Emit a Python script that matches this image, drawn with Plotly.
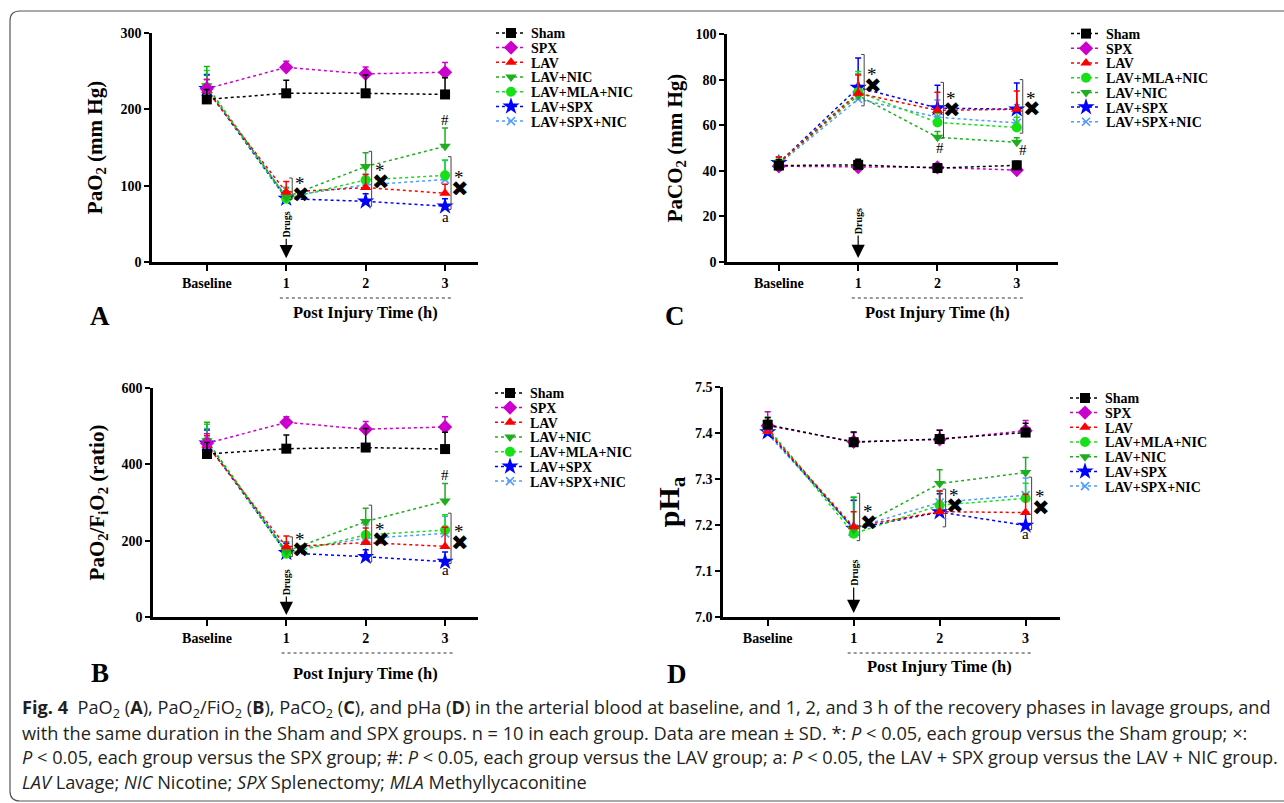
import plotly.graph_objects as go

W, H = 1284, 803


def px(x):
    return x / W


def py(y):
    return 1 - y / H


# ---------------- data ----------------
TIME_VALS = [0, 1, 2, 3]
TIME_LABELS = ["Baseline", "1", "2", "3"]
GROUPS = ["Sham", "SPX", "LAV", "LAV+NIC", "LAV+MLA+NIC", "LAV+SPX", "LAV+SPX+NIC"]

# PaO2 (mm Hg)
PAO2_MEAN = [
    [213, 221, 221, 219.5],
    [227, 255, 246.5, 248.5],
    [225, 91.5, 97.5, 90],
    [231, 85, 125, 151.5],
    [229, 83, 107.5, 113.5],
    [227, 83, 79.5, 73],
    [226, 86, 101, 108],
]
PAO2_SD = [
    [13, 17, 24, 22],
    [12, 8, 9, 13],
    [14, 14, 17, 12],
    [25, 12, 18, 24],
    [22, 10, 16, 20],
    [18, 10, 10, 10],
    [20, 12, 14, 25],
]

# PaO2/FiO2 (ratio)
RATIO_MEAN = [
    [427, 441, 444, 440],
    [455, 510, 492, 498],
    [450, 184, 195, 185],
    [462, 172, 250, 304],
    [460, 166, 215, 228],
    [455, 168, 158, 145],
    [454, 174, 206, 219],
]
RATIO_SD = [
    [30, 36, 50, 44],
    [25, 15, 20, 27],
    [25, 28, 38, 50],
    [48, 25, 35, 46],
    [45, 20, 30, 40],
    [35, 25, 18, 25],
    [40, 20, 35, 45],
]

# PaCO2 (mm Hg)
PACO2_MEAN = [
    [42.3, 42.6, 41.2, 42.4],
    [42.0, 41.6, 41.5, 40.3],
    [43.5, 74.0, 66.5, 67.0],
    [43.5, 73.0, 54.7, 52.5],
    [43.5, 74.5, 61.2, 59.0],
    [43.5, 76.5, 67.5, 67.0],
    [43.0, 71.5, 63.5, 61.0],
]
PACO2_SD = [
    [2.5, 2.5, 1.5, 1.8],
    [2.0, 1.5, 1.5, 1.5],
    [2.5, 8.0, 8.0, 8.0],
    [2.5, 9.5, 2.5, 2.0],
    [2.5, 9.0, 4.0, 4.5],
    [2.5, 13.0, 10.0, 11.5],
    [2.0, 6.0, 7.5, 8.0],
]

# pHa
PH_MEAN = [
    [7.418, 7.380, 7.387, 7.401],
    [7.416, 7.381, 7.386, 7.405],
    [7.404, 7.196, 7.229, 7.227],
    [7.410, 7.190, 7.290, 7.314],
    [7.408, 7.181, 7.243, 7.258],
    [7.402, 7.192, 7.228, 7.199],
    [7.398, 7.193, 7.249, 7.265],
]
PH_SD = [
    [0.015, 0.022, 0.019, 0.020],
    [0.030, 0.020, 0.020, 0.022],
    [0.020, 0.033, 0.045, 0.040],
    [0.025, 0.070, 0.030, 0.033],
    [0.020, 0.080, 0.030, 0.033],
    [0.020, 0.062, 0.040, 0.030],
    [0.020, 0.060, 0.026, 0.037],
]

# significance marks: (time, bracket low, bracket high, level of the x / * mark)
PAO2_SIG = [(1, 82, 110, 88), (2, 73, 145, 105), (3, 69, 138, 96)]
RATIO_SIG = [(1, 158, 210, 175), (2, 144, 293, 201), (3, 140, 272, 195)]
PACO2_SIG = [(1, 68.5, 91, 77.4), (2, 54.3, 78.8, 66.7), (3, 56.5, 80, 67)]
PH_SIG = [(1, 7.166, 7.269, 7.205), (2, 7.196, 7.278, 7.241), (3, 7.19, 7.304, 7.238)]
PAO2_HASH = [(3, 186)]
RATIO_HASH = [(3, 372)]
PACO2_HASH = [(2, 50.1), (3, 49.1)]
PH_HASH = []
PAO2_A = [(3, 59.5)]
RATIO_A = [(3, 123)]
PACO2_A = []
PH_A = [(3, 7.180)]

CAPTION = [
    "<b>Fig. 4</b>  PaO<sub>2</sub> (<b>A</b>), PaO<sub>2</sub>/FiO<sub>2</sub> (<b>B</b>), PaCO<sub>2</sub> (<b>C</b>), and pHa (<b>D</b>) in the arterial blood at baseline, and 1, 2, and 3 h of the recovery phases in lavage groups, and",
    "with the same duration in the Sham and SPX groups. n = 10 in each group. Data are mean ± SD. *: <i>P</i> &lt; 0.05, each group versus the Sham group; ×:",
    "<i>P</i> &lt; 0.05, each group versus the SPX group; #: <i>P</i> &lt; 0.05, each group versus the LAV group; a: <i>P</i> &lt; 0.05, the LAV + SPX group versus the LAV + NIC group.",
    "<i>LAV</i> Lavage; <i>NIC</i> Nicotine; <i>SPX</i> Splenectomy; <i>MLA</i> Methyllycaconitine",
]

# ---------------- style ----------------
COLORS = ["#000000", "#CC00CC", "#FF0000", "#1DAF1D", "#16E016", "#0000FF", "#4F9BFF"]
SYMBOLS = ["square", "diamond", "triangle-up", "triangle-down", "circle", "star", "x-thin"]
SIZES = [10, 11, 10, 10, 10, 13, 8]
SERIF = "Liberation Serif"

panels = [
    dict(mean=PAO2_MEAN, sd=PAO2_SD, sig=PAO2_SIG, hashes=PAO2_HASH, amarks=PAO2_A,
         xdom=(152, 478), ydom=(262, 33), xr=(-0.69, 3.415), yr=(0, 300),
         ytv=[0, 100, 200, 300], yfmt="", ytitle="PaO<sub>2</sub> (mm Hg)", tsize=21, standoff=13,
         order=[0, 1, 2, 3, 4, 5, 6], leg_x=531, leg_y=33.3,
         letter="A", letter_xy=(100, 316), post_y=312, dot_y=298, dot_x=(0.92, 3.09),
         drugs=(5, -34)),
    dict(mean=RATIO_MEAN, sd=RATIO_SD, sig=RATIO_SIG, hashes=RATIO_HASH, amarks=RATIO_A,
         xdom=(153, 478), ydom=(617, 388), xr=(-0.68, 3.415), yr=(0, 600),
         ytv=[0, 200, 400, 600], yfmt="", ytitle="PaO<sub>2</sub>/F<sub>i</sub>O<sub>2</sub> (ratio)", tsize=21, standoff=12,
         order=[0, 1, 2, 3, 4, 5, 6], leg_x=530, leg_y=393.3,
         letter="B", letter_xy=(100, 673), post_y=673, dot_y=653, dot_x=(0.94, 3.1),
         drugs=(5.2, -33)),
    dict(mean=PACO2_MEAN, sd=PACO2_SD, sig=PACO2_SIG, hashes=PACO2_HASH, amarks=PACO2_A,
         xdom=(727, 1058), ydom=(262, 34), xr=(-0.654, 3.52), yr=(0, 100),
         ytv=[0, 20, 40, 60, 80, 100], yfmt="", ytitle="PaCO<sub>2</sub> (mm Hg)", tsize=21, standoff=8,
         order=[0, 1, 2, 4, 3, 5, 6], leg_x=1106, leg_y=34,
         letter="C", letter_xy=(675, 316), post_y=312, dot_y=298, dot_x=(0.92, 3.1),
         drugs=(1.75, -37)),
    dict(mean=PH_MEAN, sd=PH_SD, sig=PH_SIG, hashes=PH_HASH, amarks=PH_A,
         xdom=(723, 1060), ydom=(617, 387), xr=(-0.52, 3.4), yr=(7.0, 7.5),
         ytv=[7.0, 7.1, 7.2, 7.3, 7.4, 7.5], yfmt=".1f", ytitle="pH<sub>a</sub>", tsize=30, standoff=7,
         order=[0, 1, 2, 4, 3, 5, 6], leg_x=1105, leg_y=398.3,
         letter="D", letter_xy=(677, 674), post_y=666, dot_y=653, dot_x=(0.93, 3.07),
         drugs=(7.0087, -40)),
]

fig = go.Figure()
layout = dict(
    width=W, height=H, autosize=False,
    margin=dict(l=0, r=0, t=0, b=0, pad=0, autoexpand=False),
    paper_bgcolor="white", plot_bgcolor="white",
    font=dict(family=SERIF, color="black"),
    showlegend=True,
)
annotations = []
shapes = []

ROW_GAP = 14.7

for p, P in enumerate(panels):
    suffix = "" if p == 0 else str(p + 1)
    xa, ya = "x" + suffix, "y" + suffix
    # axes
    layout["xaxis" + suffix] = dict(
        domain=[px(P["xdom"][0]), px(P["xdom"][1])], range=list(P["xr"]), anchor=ya,
        tickvals=TIME_VALS, ticktext=TIME_LABELS, ticks="outside", ticklen=6, tickwidth=2,
        tickcolor="black", showline=True, linewidth=2.5, linecolor="black",
        showgrid=False, zeroline=False, ticklabelstandoff=0,
        tickfont=dict(family=SERIF, size=14, weight="bold", color="black"),
    )
    layout["yaxis" + suffix] = dict(
        domain=[py(P["ydom"][0]), py(P["ydom"][1])], range=list(P["yr"]), anchor=xa,
        tickvals=P["ytv"], tickformat=P["yfmt"], ticks="outside", ticklen=5, tickwidth=2,
        tickcolor="black", showline=True, linewidth=2.5, linecolor="black",
        showgrid=False, zeroline=False,
        tickfont=dict(family=SERIF, size=14, weight="bold", color="black"),
        title=dict(text=P["ytitle"], standoff=P["standoff"],
                   font=dict(family=SERIF, size=P["tsize"], weight="bold", color="black")),
    )
    # traces (drawn in reverse so Sham ends on top)
    for g in reversed(range(len(GROUPS))):
        row = P["order"].index(g)
        lid = p * 7 + row + 1
        lname = "legend" if lid == 1 else "legend%d" % lid
        c = COLORS[g]
        marker = dict(symbol=SYMBOLS[g], size=SIZES[g], color=c, line=dict(width=0))
        if SYMBOLS[g] == "x-thin":
            marker["line"] = dict(color=c, width=1.6)
        fig.add_trace(go.Scatter(
            x=TIME_VALS, y=P["mean"][g], name=GROUPS[g], mode="lines+markers",
            xaxis=xa, yaxis=ya, legend=lname, cliponaxis=False,
            line=dict(color=c, width=1.5, dash="dot"), marker=marker,
            error_y=dict(type="data", array=P["sd"][g], arrayminus=[0] * len(TIME_VALS),
                         symmetric=False, color=c, thickness=1.5, width=3),
        ))
        layout[lname] = dict(
            x=px(P["leg_x"] - 40), y=py(P["leg_y"] + ROW_GAP * row), xanchor="left", yanchor="middle",
            bgcolor="rgba(0,0,0,0)", borderwidth=0, itemwidth=30,
            font=dict(family=SERIF, size=14, weight="bold", color="black"),
        )
    # significance brackets, x marks and asterisks
    for (t, lo, hi, lvl) in P["sig"]:
        common = dict(xref=xa, yref=ya, xsizemode="pixel", xanchor=t, line=dict(color="#444", width=1))
        shapes.append(dict(type="line", x0=6, x1=6, y0=lo, y1=hi, **common))
        shapes.append(dict(type="line", x0=3, x1=6, y0=lo, y1=lo, **common))
        shapes.append(dict(type="line", x0=3, x1=6, y0=hi, y1=hi, **common))
        annotations.append(dict(x=t, y=lvl, xref=xa, yref=ya, text="✖", showarrow=False,
                                xanchor="center", yanchor="middle",
                                xshift=15, font=dict(family="DejaVu Sans", size=21, color="black")))
        annotations.append(dict(x=t, y=lvl, xref=xa, yref=ya, text="*", showarrow=False,
                                xanchor="center", yanchor="middle",
                                xshift=14, yshift=11, font=dict(family=SERIF, size=19, color="black")))
    for (t, lvl) in P["hashes"]:
        annotations.append(dict(x=t, y=lvl, xref=xa, yref=ya, text="#", showarrow=False,
                                xanchor="center", yanchor="middle",
                                xshift=3 if t == 2 else (6 if p == 2 else 0),
                                font=dict(family=SERIF, size=15, color="black")))
    for (t, lvl) in P["amarks"]:
        annotations.append(dict(x=t, y=lvl, xref=xa, yref=ya, text="a", showarrow=False,
                                xanchor="center", yanchor="middle",
                                font=dict(family=SERIF, size=15, color="black")))
    # Drugs arrow
    dy, day = P["drugs"]
    annotations.append(dict(x=1, y=dy, xref=xa, yref=ya, text="Drugs", textangle=-90,
                            showarrow=True, arrowhead=2, arrowsize=2.2, arrowwidth=1.2,
                            arrowcolor="black", ax=0, ay=day, standoff=0,
                            font=dict(family=SERIF, size=10, weight="bold", color="black")))
    # x-axis group label
    shapes.append(dict(type="line", xref=xa, yref="paper", x0=P["dot_x"][0], x1=P["dot_x"][1],
                       y0=py(P["dot_y"]), y1=py(P["dot_y"]),
                       line=dict(color="#333", width=1, dash="dot")))
    annotations.append(dict(x=2, y=py(P["post_y"]), xref=xa, yref="paper", text="Post Injury Time (h)",
                            xanchor="center", yanchor="middle", showarrow=False,
                            font=dict(family=SERIF, size=16.5, weight="bold", color="black")))
    # panel letter
    annotations.append(dict(x=px(P["letter_xy"][0]), y=py(P["letter_xy"][1]), xref="paper", yref="paper",
                            xanchor="center", yanchor="middle", text=P["letter"], showarrow=False,
                            font=dict(family=SERIF, size=27, weight="bold", color="black")))

# caption
for i, line in enumerate(CAPTION):
    annotations.append(dict(x=px(20), y=py(708 + 24.7 * i), xref="paper", yref="paper",
                            xanchor="left", yanchor="middle", text=line, showarrow=False, align="left",
                            font=dict(family="Open Sans", size=18.2, color="#231F20")))

# rounded frame around the figure
x0, yt, yb, r = px(10), py(11), py(801), 10
frame = ("M 1.02,{yt} L {xa},{yt} Q {x0},{yt} {x0},{yq} L {x0},{yq2} Q {x0},{yb} {xa},{yb} L 1.02,{yb}"
         .format(yt=yt, yb=yb, x0=x0, xa=px(10 + r), yq=py(11 + r), yq2=py(801 - r)))
shapes.append(dict(type="path", xref="paper", yref="paper", path=frame,
                   line=dict(color="#555", width=1.2)))

layout["annotations"] = annotations
layout["shapes"] = shapes
fig.update_layout(**layout)

fig.write_html("out.html", config={"displayModeBar": False},
               post_script="document.body.style.margin='0';document.body.style.overflow='hidden';")
